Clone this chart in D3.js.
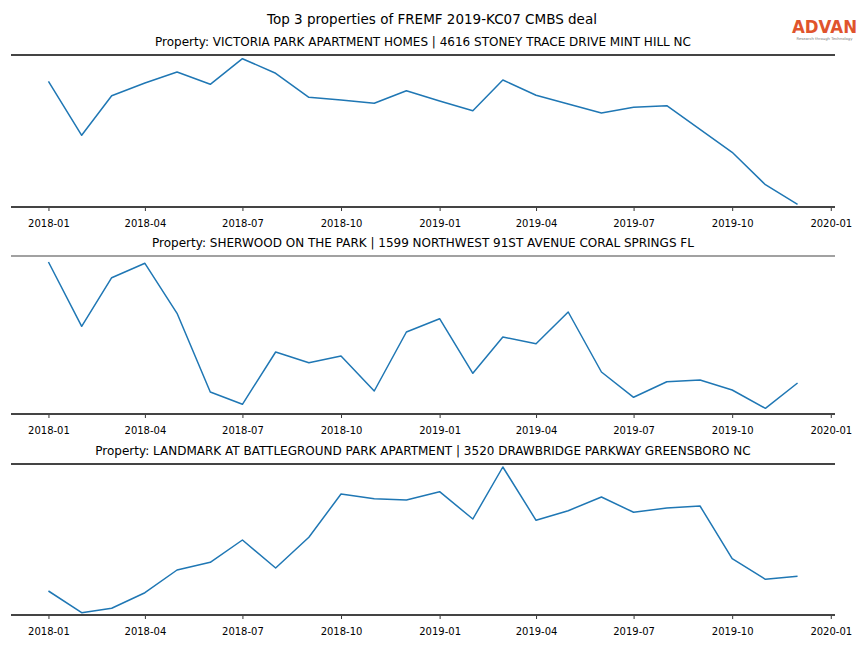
<!DOCTYPE html>
<html><head><meta charset="utf-8">
<script src="https://cdn.jsdelivr.net/npm/d3@7"></script>
<style>body{margin:0;background:#fff}svg{display:block}text{font-family:"DejaVu Sans",sans-serif}</style>
</head><body><svg id="c" width="864" height="648"></svg>
<script>
const months = ["2018-01","2018-02","2018-03","2018-04","2018-05","2018-06","2018-07","2018-08","2018-09","2018-10","2018-11","2018-12",
"2019-01","2019-02","2019-03","2019-04","2019-05","2019-06","2019-07","2019-08","2019-09","2019-10","2019-11","2019-12"];
const tickLabels = ["2018-01","2018-04","2018-07","2018-10","2019-01","2019-04","2019-07","2019-10","2020-01"];
const mainTitle = "Top 3 properties of FREMF 2019-KC07 CMBS deal";
const titles = [
 "Property: VICTORIA PARK APARTMENT HOMES | 4616 STONEY TRACE DRIVE MINT HILL NC",
 "Property: SHERWOOD ON THE PARK | 1599 NORTHWEST 91ST AVENUE CORAL SPRINGS FL",
 "Property: LANDMARK AT BATTLEGROUND PARK APARTMENT | 3520 DRAWBRIDGE PARKWAY GREENSBORO NC"
];
const victoria = [125.7,71.7,111.3,124,135,122.7,148.3,133.7,109.7,107,103.7,116.3,106,96.3,127,111.7,103,94,99.7,101.3,77.7,54.7,22.3,2.7];
const sherwood = [152,87.7,136.3,150.7,100.7,22,9.7,62,51.3,58,23,82,95.3,40.7,77,70.3,102,42,16.7,32.3,34,24,5.7,31];
const landmark = [24,2.3,6.7,22.3,45,52.7,75,47,77.7,121,116.3,115,123.3,96,148,94.7,104.3,118,102.7,107,109,56.3,35.7,38.7];
const yMax = [152,158,151];

const svg = d3.select("#c");
const parse = d3.timeParse("%Y-%m");
const dates = months.map(parse);
const d0 = dates[0], d1 = dates[dates.length-1];
const span = d1 - d0;
const x = d3.scaleTime().domain([new Date(+d0 - span*0.05), new Date(+d1 + span*0.05)]).range([11, 835]);

svg.append("text").attr("x",432).attr("y",24).attr("text-anchor","middle").attr("font-size",13.5).attr("fill","#000").text(mainTitle);

// logo
const lg = svg.append("g");
lg.append("text").attr("x",824.5).attr("y",33).attr("text-anchor","middle").attr("font-size",17).attr("font-weight","bold")
  .attr("font-family","Liberation Sans, Arial, sans-serif").attr("fill","#e0542c").attr("textLength",65).attr("lengthAdjust","spacingAndGlyphs").text("ADVAN");
lg.append("text").attr("x",824.5).attr("y",39.5).attr("text-anchor","middle").attr("font-size",3.8).attr("fill","#777").text("Research through Technology");

const panels = [
 {data:victoria, top:55, bottom:207, topW:2, title:titles[0]},
 {data:sherwood, top:256, bottom:414, topW:1.2, title:titles[1]},
 {data:landmark, top:464, bottom:615, topW:2, title:titles[2]}
];
panels.forEach((p,i)=>{
  const y = d3.scaleLinear().domain([0, yMax[i]]).range([p.bottom, p.top]);
  const g = svg.append("g");
  g.append("text").attr("x",423).attr("y",p.top-9).attr("text-anchor","middle").attr("font-size",12).attr("fill","#000").text(p.title);
  const ax = d3.axisBottom(x).tickValues(tickLabels.map(parse)).tickFormat(d3.timeFormat("%Y-%m")).tickSize(4).tickSizeOuter(0);
  const ag = g.append("g").attr("transform",`translate(0,${p.bottom})`).call(ax);
  ag.select(".domain").remove();
  ag.selectAll(".tick line").attr("stroke","#000").attr("stroke-width",0.8);
  ag.selectAll(".tick text").attr("font-size",10).attr("fill","#000").attr("dy","1.3em").attr("font-family","DejaVu Sans, sans-serif");
  g.append("line").attr("x1",11).attr("x2",835).attr("y1",p.top).attr("y2",p.top).attr("stroke","#444").attr("stroke-width",p.topW);
  g.append("line").attr("x1",11).attr("x2",835).attr("y1",p.bottom).attr("y2",p.bottom).attr("stroke","#444").attr("stroke-width",2);
  const line = d3.line().x((d,j)=>x(dates[j])).y(d=>y(d));
  g.append("path").datum(p.data).attr("d",line).attr("fill","none").attr("stroke","#1f77b4").attr("stroke-width",1.5).attr("stroke-linejoin","round");
});
</script></body></html>
